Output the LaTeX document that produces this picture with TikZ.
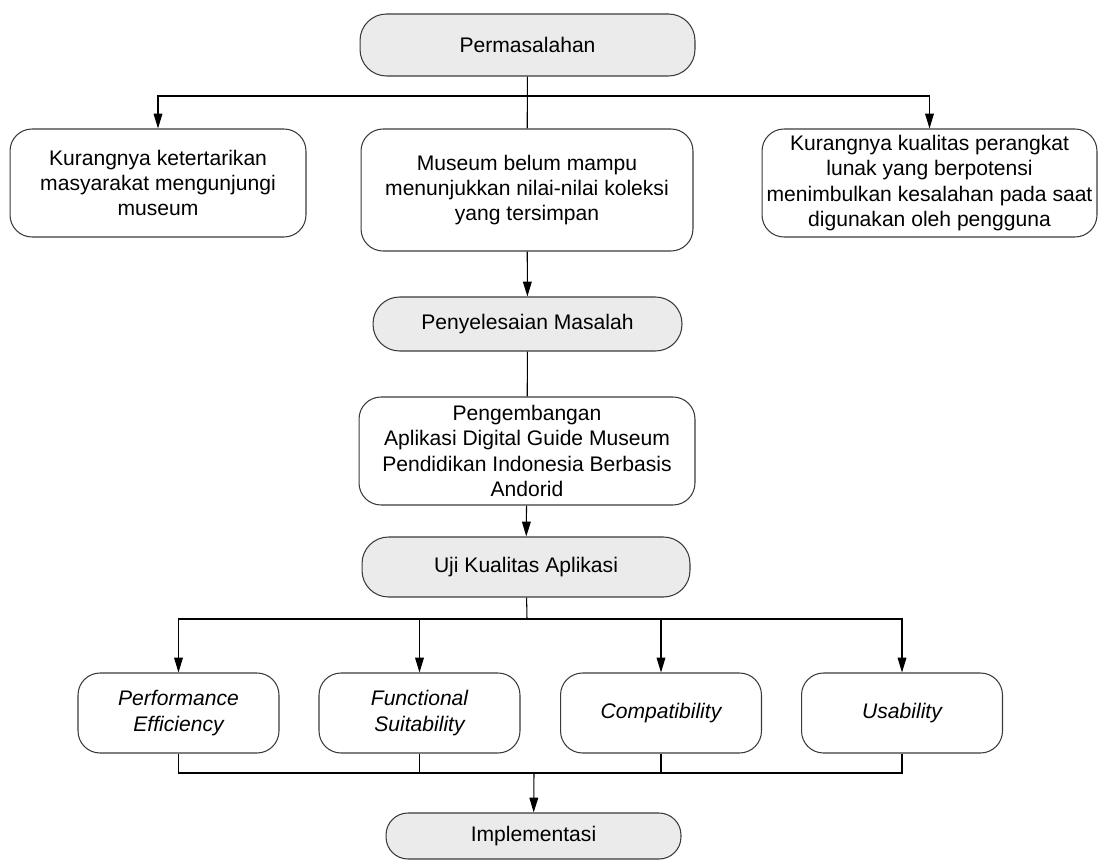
\documentclass[tikz,border=0pt]{standalone}
\usepackage{fontspec}
\setmainfont{Liberation Sans}
\usetikzlibrary{arrows.meta, positioning}

\definecolor{headfill}{HTML}{EBEBEB}
\definecolor{edgegray}{HTML}{3A3A3A}

\begin{document}
\begin{tikzpicture}[
    x=0.02cm, y=-0.02cm,
    >={Triangle[length=8.5pt,width=5pt]},
    every path/.style={line width=0.6pt},
    box/.style={rectangle, draw=edgegray, rounded corners=0.44cm, align=center, inner sep=2pt, font=\fontsize{12}{14.3}\selectfont},
    head/.style={box, fill=headfill, rounded corners=0.53cm},
    crit/.style={box, minimum width=4.02cm, minimum height=1.6cm, font=\fontsize{12}{14.3}\selectfont\itshape}
  ]
    \useasboundingbox (0,0) rectangle (1101,861);

    \node[head, minimum width=6.7cm, minimum height=1.24cm] (perm) at (527.5,45) {Permasalahan};
    \node[box, minimum width=5.92cm, minimum height=2.16cm] (kurang) at (158,183) {Kurangnya ketertarikan\\masyarakat mengunjungi\\museum};
    \node[box, minimum width=6.64cm, minimum height=2.44cm] (museum) at (527,190) {Museum belum mampu\\menunjukkan nilai-nilai koleksi\\yang tersimpan};
    \node[box, minimum width=6.7cm, minimum height=2.16cm] (kualitas) at (929.5,183) {Kurangnya kualitas perangkat\\lunak yang berpotensi\\menimbulkan kesalahan pada saat\\digunakan oleh pengguna};
    \node[head, minimum width=6.18cm, minimum height=1.08cm] (solusi) at (527.5,324) {Penyelesaian Masalah};
    \node[box, minimum width=6.72cm, minimum height=2.16cm] (aplikasi) at (527,451) {Pengembangan\\Aplikasi Digital Guide Museum\\Pendidikan Indonesia Berbasis\\Andorid};
    \node[head, minimum width=6.56cm, minimum height=1.2cm] (uji) at (526,567) {Uji Kualitas Aplikasi};
    \node[crit] (perf) at (178.5,713) {Performance\\Efficiency};
    \node[crit] (func) at (419.5,713) {Functional\\Suitability};
    \node[crit] (comp) at (661,713) {Compatibility};
    \node[crit] (usab) at (902,713) {Usability};
    \node[head, rounded corners=0.44cm, minimum width=5.9cm, minimum height=0.92cm] (impl) at (533.5,836) {Implementasi};

    \coordinate (split) at (527,96);
    \coordinate (fork) at (527,619);
    \coordinate (join) at (534,773);

    % permasalahan ke tiga masalah
    \draw (perm) -- (museum);
    \draw[->] (split) -| (kurang);
    \draw[->] (split) -| (kualitas);
    \draw[->] (museum) -- (solusi);
    \draw (solusi) -- (aplikasi);
    \draw[->] (aplikasi) -- (uji);

    % uji kualitas ke empat karakteristik
    \draw (uji) -- (fork);
    \foreach \c in {perf, func, comp, usab} {
      \draw[->] (fork) -| (\c);
      \draw (\c) |- (join);
    }
    \draw[->] (join) -- (impl);
  \end{tikzpicture}
\end{document}
